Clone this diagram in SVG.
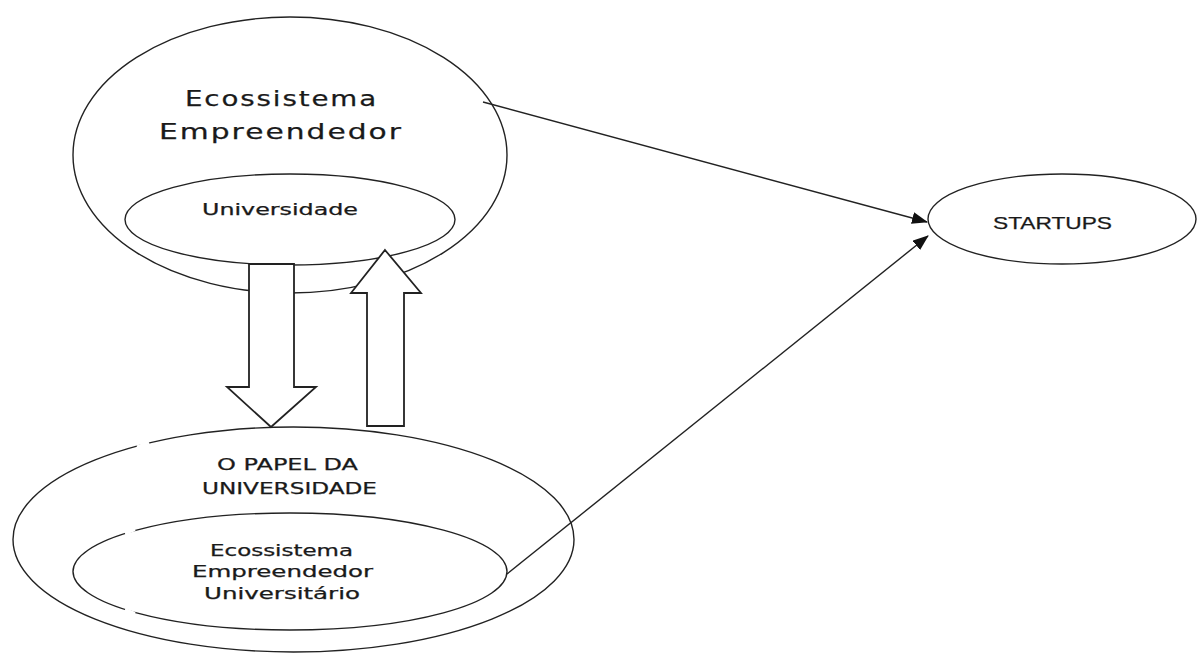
<svg xmlns="http://www.w3.org/2000/svg" width="1197" height="653" viewBox="0 0 1197 653">
<style>
.shape{fill:#fff;stroke:#222;stroke-width:1.4}
.open{fill:none;stroke:#222;stroke-width:1.4}
.bigarrow{fill:#fff;stroke:#222;stroke-width:1.8}
.gap{stroke:#fff;stroke-width:3}
.conn{stroke:#222;stroke-width:1.4;fill:none}
text{font-family:"DejaVu Sans","Liberation Sans",sans-serif;fill:#1a1a1a;stroke:#1a1a1a;stroke-width:0.25;text-anchor:start}
.st{font-family:"Liberation Sans",Arial,sans-serif}
</style>
<defs>
<marker id="ah" markerWidth="16" markerHeight="12" refX="15" refY="6" orient="auto" markerUnits="userSpaceOnUse">
<path d="M0,0 L16,6 L0,12 z" fill="#111"/>
</marker>
</defs>
<rect width="1197" height="653" fill="#fff"/>
<g id="ecossistema">
<ellipse class="shape" cx="290" cy="155" rx="217" ry="138"/>
<text x="185" y="106" font-size="22" letter-spacing="1.5" textLength="193" lengthAdjust="spacingAndGlyphs">Ecossistema</text>
<text x="159" y="139" font-size="22" letter-spacing="1.5" textLength="244" lengthAdjust="spacingAndGlyphs">Empreendedor</text>
</g>
<g id="universidade">
<ellipse class="shape" cx="290" cy="219.5" rx="165" ry="45.5"/>
<text x="202" y="215" font-size="15.5" textLength="156" lengthAdjust="spacingAndGlyphs">Universidade</text>
</g>
<g id="papel">
<ellipse class="open" cx="293.5" cy="539.5" rx="280.5" ry="112.5"/>
<line class="gap" x1="137" y1="447" x2="149" y2="442.5"/>
<text x="217" y="470" font-size="16" textLength="141" lengthAdjust="spacingAndGlyphs">O PAPEL DA</text>
<text x="202" y="494" font-size="16" textLength="175" lengthAdjust="spacingAndGlyphs">UNIVERSIDADE</text>
</g>
<g id="ecossistema-univ">
<ellipse class="open" cx="290" cy="571.5" rx="217" ry="58.5"/>
<line class="gap" x1="125" y1="533.5" x2="135" y2="529.5"/>
<line class="gap" x1="125" y1="609.5" x2="135" y2="613.5"/>
<text x="210" y="556" font-size="15" textLength="143" lengthAdjust="spacingAndGlyphs">Ecossistema</text>
<text x="192" y="577" font-size="15" textLength="181" lengthAdjust="spacingAndGlyphs">Empreendedor</text>
<text x="204" y="599" font-size="15" textLength="156" lengthAdjust="spacingAndGlyphs">Universitário</text>
</g>
<g id="startups">
<ellipse class="shape" cx="1062" cy="219" rx="134" ry="45"/>
<text class="st" x="993" y="229" font-size="17" textLength="119" lengthAdjust="spacingAndGlyphs">STARTUPS</text>
</g>
<g id="connectors">
<polygon class="bigarrow" points="249,264 294,264 294,387 316,387 271,427 227,387 249,387"/>
<polygon class="bigarrow" points="385,250 421,293 404,293 404,426 367,426 367,293 351,293"/>
<line class="conn" x1="483" y1="102" x2="927" y2="222" marker-end="url(#ah)"/>
<line class="conn" x1="507" y1="574" x2="928" y2="236" marker-end="url(#ah)"/>
</g>
</svg>
